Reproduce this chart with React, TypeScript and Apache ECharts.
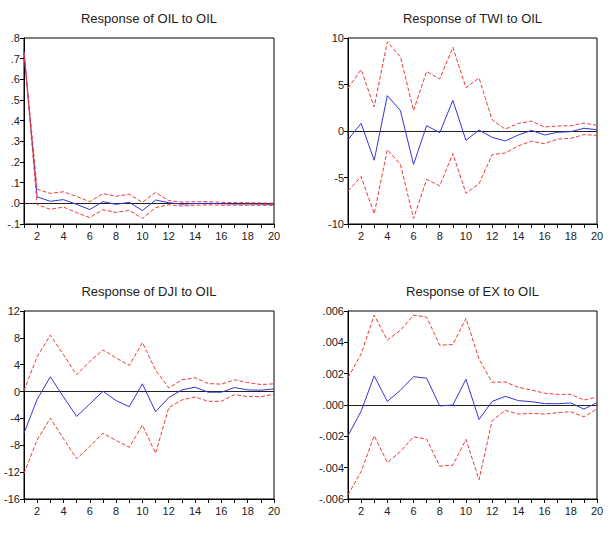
import React, { useEffect, useRef } from "react";
import * as echarts from "echarts";

const periods = [1, 2, 3, 4, 5, 6, 7, 8, 9, 10, 11, 12, 13, 14, 15, 16, 17, 18, 19, 20];

const titles = ["Response of OIL to OIL", "Response of TWI to OIL", "Response of DJI to OIL", "Response of EX to OIL"];

// OIL to OIL
const oilResp = [0.732, 0.031, 0.01, 0.018, -0.005, -0.03, 0.008, -0.005, 0.005, -0.035, 0.016, 0.003, -0.004, -0.001, 0.0, -0.002, -0.003, -0.003, -0.004, -0.005];
const oilUpper = [0.735, 0.068, 0.048, 0.056, 0.033, 0.008, 0.047, 0.034, 0.044, 0.005, 0.053, 0.013, 0.006, 0.008, 0.008, 0.005, 0.004, 0.003, 0.002, 0.0];
const oilLower = [0.728, -0.006, -0.029, -0.018, -0.045, -0.069, -0.031, -0.044, -0.034, -0.073, -0.021, -0.007, -0.013, -0.009, -0.007, -0.009, -0.009, -0.009, -0.009, -0.01];

// TWI to OIL
const twiResp = [-0.93, 0.82, -3.15, 3.8, 2.2, -3.6, 0.57, -0.18, 3.3, -1.0, 0.1, -0.68, -1.07, -0.43, 0.07, -0.43, -0.14, -0.07, 0.29, 0.14];
const twiUpper = [4.6, 6.6, 2.6, 9.6, 7.96, 2.2, 6.4, 5.6, 9.0, 4.66, 5.7, 1.2, 0.2, 0.82, 1.07, 0.43, 0.54, 0.57, 0.86, 0.61];
const twiLower = [-6.45, -4.9, -8.9, -2.0, -3.6, -9.4, -5.2, -5.9, -2.44, -6.7, -5.66, -2.54, -2.37, -1.6, -1.1, -1.36, -0.86, -0.79, -0.39, -0.47];

// DJI to OIL
const djiResp = [-6.2, -1.15, 2.2, -0.8, -3.7, -1.85, 0.05, -1.35, -2.25, 1.15, -3.0, -0.9, 0.25, 0.65, -0.1, -0.1, 0.6, 0.25, 0.2, 0.4];
const djiUpper = [0.15, 5.2, 8.4, 5.5, 2.5, 4.5, 6.2, 5.0, 3.9, 7.3, 3.2, 0.55, 1.75, 2.05, 1.2, 1.1, 1.75, 1.35, 1.05, 1.15];
const djiLower = [-12.2, -7.2, -3.95, -7.0, -10.0, -8.2, -6.2, -7.3, -8.3, -5.0, -9.2, -2.4, -1.25, -0.8, -1.45, -1.45, -0.45, -0.75, -0.75, -0.4];

// EX to OIL
const exResp = [-0.00196, -0.0004, 0.00186, 0.00023, 0.00094, 0.00181, 0.00171, -0.00006, 0.0, 0.00164, -0.00092, 0.00023, 0.00055, 0.00028, 0.00021, 0.00009, 0.00008, 0.00013, -0.00026, 0.00015];
const exUpper = [0.00175, 0.00324, 0.00574, 0.00414, 0.00478, 0.00574, 0.00561, 0.00382, 0.00386, 0.00553, 0.00292, 0.00145, 0.00147, 0.00113, 0.00096, 0.00075, 0.00068, 0.00068, 0.00032, 0.00051];
const exLower = [-0.00574, -0.00425, -0.00196, -0.00367, -0.00297, -0.00203, -0.00218, -0.0039, -0.00384, -0.0022, -0.00476, -0.001, -0.00034, -0.00058, -0.00053, -0.00058, -0.00049, -0.00043, -0.00075, -0.00026];

const FONT = "Liberation Sans, Arial, Helvetica, sans-serif";

const dotFmt = (digits: number) => (v: number) => {
  const s = v.toFixed(digits);
  return s.replace(/^(-?)0\./, "$1.");
};
const intFmt = (v: number) => String(Math.round(v));

const panels = [
  { title: titles[0], min: -0.1, max: 0.8, interval: 0.1, fmt: dotFmt(1), resp: oilResp, up: oilUpper, lo: oilLower, grid: { left: 24, top: 38, width: 250, height: 186 } },
  { title: titles[1], min: -10, max: 10, interval: 5, fmt: intFmt, resp: twiResp, up: twiUpper, lo: twiLower, grid: { left: 348, top: 38, width: 249, height: 186 } },
  { title: titles[2], min: -16, max: 12, interval: 4, fmt: intFmt, resp: djiResp, up: djiUpper, lo: djiLower, grid: { left: 24, top: 311, width: 250, height: 188 } },
  { title: titles[3], min: -0.006, max: 0.006, interval: 0.002, fmt: dotFmt(3), resp: exResp, up: exUpper, lo: exLower, grid: { left: 348, top: 311, width: 249, height: 188 } },
];

export default function App() {
  const ref = useRef<HTMLDivElement>(null);
  useEffect(() => {
    if (!ref.current) return;
    const chart = echarts.init(ref.current, undefined, { renderer: "svg" });
    const grids: any[] = [];
    const xAxes: any[] = [];
    const yAxes: any[] = [];
    const series: any[] = [];
    const graphics: any[] = [];
    panels.forEach((p, i) => {
      grids.push({ ...p.grid, show: true, borderColor: "#000", borderWidth: 1, backgroundColor: "#fff", containLabel: false });
      xAxes.push({
        type: "value",
        gridIndex: i,
        position: "bottom",
        min: 1,
        max: 20,
        interval: 1,
        axisLine: { show: true, onZero: false, lineStyle: { color: "#000", width: 1 } },
        axisTick: { show: true, inside: false, length: 4, lineStyle: { color: "#000" } },
        axisLabel: {
          show: true,
          margin: 6,
          fontSize: 11,
          fontFamily: FONT,
          color: "#222",
          showMinLabel: true,
          showMaxLabel: true,
          formatter: (v: number) => (Math.round(v) % 2 === 0 ? String(Math.round(v)) : ""),
        },
        splitLine: { show: false },
      });
      yAxes.push({
        type: "value",
        gridIndex: i,
        position: "left",
        min: p.min,
        max: p.max,
        interval: p.interval,
        axisLine: { show: true, onZero: false, lineStyle: { color: "#000", width: 1 } },
        axisTick: { show: true, inside: false, length: 4, lineStyle: { color: "#000" } },
        axisLabel: { show: true, margin: 4, fontSize: 11, fontFamily: FONT, color: "#222", formatter: p.fmt, showMinLabel: true, showMaxLabel: true },
        splitLine: { show: false },
      });
      const mk = (arr: number[]) => periods.map((x, k) => [x, arr[k]]);
      series.push({
        type: "line",
        xAxisIndex: i,
        yAxisIndex: i,
        data: mk(p.resp),
        showSymbol: false,
        symbol: "none",
        lineStyle: { color: "#3535d8", width: 1 },
        z: 3,
        markLine: {
          silent: true,
          symbol: "none",
          label: { show: false },
          lineStyle: { color: "#222", type: "solid", width: 1 },
          data: [{ yAxis: 0 }],
          z: 1,
        },
      });
      [p.up, p.lo].forEach((arr) => {
        series.push({
          type: "line",
          xAxisIndex: i,
          yAxisIndex: i,
          data: mk(arr),
          showSymbol: false,
          symbol: "none",
          lineStyle: { color: "#ee3a3a", width: 1, type: [4, 2] },
          z: 4,
        });
      });
      graphics.push({
        type: "text",
        x: p.grid.left + p.grid.width / 2,
        y: p.grid.top - 20,
        style: { text: p.title, align: "center", verticalAlign: "middle", font: `13px ${FONT}`, fill: "#222" },
      });
    });
    chart.setOption({
      animation: false,
      backgroundColor: "#fff",
      grid: grids,
      xAxis: xAxes,
      yAxis: yAxes,
      series,
      graphic: graphics,
    });
    return () => chart.dispose();
  }, []);
  return <div ref={ref} style={{ position: "fixed", left: 0, top: 0, width: 610, height: 542 }} />;
}
